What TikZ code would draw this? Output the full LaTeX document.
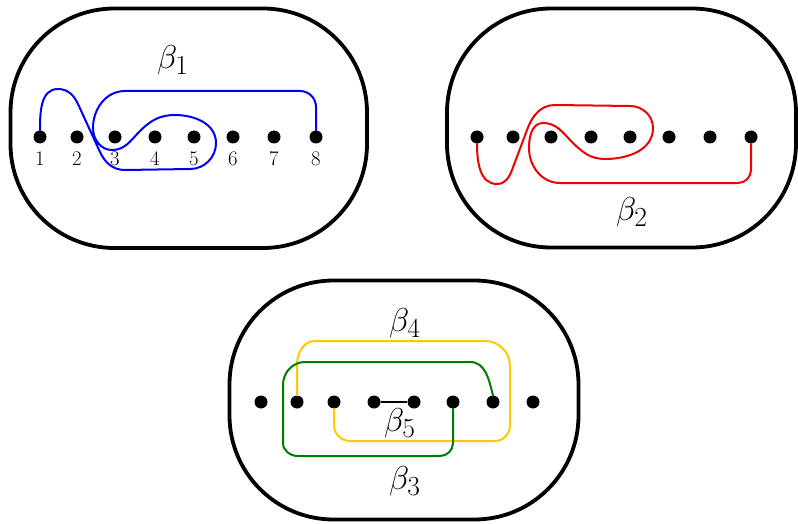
\documentclass[tikz,border=0pt]{standalone}
\usepackage{tikz}
\definecolor{curveblue}{RGB}{0,0,245}
\definecolor{curvered}{RGB}{240,0,0}
\definecolor{curveyellow}{RGB}{255,200,0}
\definecolor{curvegreen}{RGB}{0,125,0}
\tikzset{
  disk/.style={draw=none,fill=black,circle,minimum size=13pt,inner sep=0pt},
  frame/.style={draw=black,line width=3.8pt,rounded corners=104pt},
  arc/.style={line width=2pt,line cap=round,line join=round},
  lab/.style={inner sep=0pt,font=\huge},
  blab/.style={inner sep=0pt,font=\Huge,scale=1.33},
}
\begin{document}
\begin{tikzpicture}[x=1pt,y=-1pt]
\useasboundingbox (0,0) rectangle (798,524);
% frames
\draw[frame] (10.5,8.5) rectangle (367,248);
\draw[frame] (447,8.5) rectangle (796,247.5);
\draw[frame] (229.5,280.5) rectangle (578.5,519.5);
% dots panel 1
\foreach \i/\x in {1/40,2/77,3/115,4/155,5/194,6/233,7/274,8/316}{
  \node[disk] (p\i) at (\x,137) {};
  \node[lab] (pl\i) at (\x,158.5) {\i};
}
% dots panel 2
\foreach \i/\x in {1/477,2/513,3/551,4/591,5/630,6/669,7/710,8/751}{
  \node[disk] (q\i) at (\x,137) {};
}
% dots panel 3
\foreach \i/\x in {1/261,2/297,3/334,4/374,5/414,6/453,7/493,8/533}{
  \node[disk] (r\i) at (\x,402) {};
}
% beta 1 (blue)
\draw[arc,curveblue] (p1.north) to[out=90,in=180] (58,89) to[out=0,in=115] (78,104)
  -- (100,152) to[out=-65,in=180] (125,170) -- (190,169) to[out=0,in=-90] (216,143)
  to[out=90,in=0] (175,115) to[out=180,in=45] (140,131) to[out=-135,in=0] (112,150)
  to[out=180,in=-90] (93,128) to[out=90,in=180] (125,91) -- (300,91)
  to[out=0,in=90] (316,107) -- (p8.north);
% beta 2 (red)
\draw[arc,curvered] (q1.south) to[out=-90,in=180] (497,184) to[out=0,in=-110] (512,170)
  -- (527,130) to[out=70,in=180] (555,105) -- (630,106) to[out=0,in=90] (653,128)
  to[out=-90,in=0] (605,159) to[out=180,in=-45] (572,142) to[out=135,in=0] (543,123)
  to[out=180,in=90] (529,148) to[out=-90,in=180] (560,183) -- (738,183)
  to[out=0,in=-90] (751,170) -- (q8.south);
% beta 4 (yellow)
\draw[arc,curveyellow] (r2.north) -- (297,365) to[out=90,in=180] (315,341) -- (485,341)
  to[out=0,in=90] (510,366) -- (510,425) to[out=-90,in=0] (495,441) -- (350,441)
  to[out=180,in=-90] (334,425) -- (r3.south);
% beta 3 (green)
\draw[arc,curvegreen] (r7.north) to[out=105,in=0] (470,362) -- (305,362)
  to[out=180,in=90] (283,385) -- (283,443) to[out=-90,in=180] (298,456) -- (440,456)
  to[out=0,in=-90] (453,443) -- (r6.south);
% beta 5 (black segment)
\draw[line width=2.3pt] (r4) -- (r5);
% labels
\node[blab] (b1) at (173,60) {$\beta_1$};
\node[blab] (b2) at (632,212) {$\beta_2$};
\node[blab] (b4) at (405,323) {$\beta_4$};
\node[blab] (b5) at (400,423) {$\beta_5$};
\node[blab] (b3) at (405,481) {$\beta_3$};
\end{tikzpicture}
\end{document}
